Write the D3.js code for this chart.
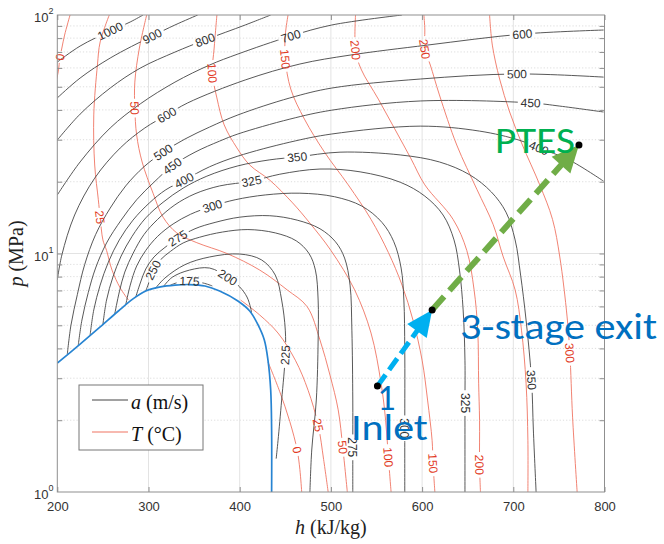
<!DOCTYPE html>
<html>
<head>
<meta charset="utf-8">
<script src="https://cdn.jsdelivr.net/npm/d3@7"></script>
<style>
  body { margin: 0; background: #fff; }
  svg { display: block; }
</style>
</head>
<body>
<div id="chart"></div>
<script>
/* Data: h in kJ/kg, p in MPa */
const hTicks = [200, 300, 400, 500, 600, 700, 800]
const pTicks = [1, 10, 100]

// speed of sound contours, a (m/s)
const soundLevels = [1000, 900, 800, 700, 600, 500, 450, 400, 350, 325, 300, 275, 250, 225, 200, 175]
const soundLines = [
  [[200,63.5],[225,74.1],[258,85.7],[280,93.5],[294,100]],
  [[200,44.9],[225,54.4],[258,66.0],[304,81.6],[329,90.8],[354,100]],
  [[200,29.9],[225,38.4],[258,49.4],[291,59.9],[329,69.9],[362,78.6],[406,90.8],[434,100]],
  [[200,17.6],[225,24.2],[258,33.6],[291,42.4],[329,52.3],[367,61.7],[398,68.6],[456,81.6],[501,90.8],[578,100]],
  [[200,7.74],[205,9.86],[219,14.5],[241,20.7],[269,27.7],[296,33.6],[320,38.1],[343,42.8],[406,53.4],[466,62.3],[521,67.9],[606,74.8],[710,83.2],[799,86.5]],
  [[211,3.79],[215,5.01],[222,6.73],[230,8.98],[242,12.0],[258,15.5],[275,19.2],[295,23.1],[316,26.6],[340,30.2],[367,33.9],[398,38.1],[455,44.9],[501,49.4],[598,53.9],[704,56.6],[799,54.9]],
  [[223,4.13],[227,5.26],[234,6.87],[242,8.69],[254,11.07],[270,13.8],[287,16.8],[306,19.9],[326,23.3],[351,26.6],[378,29.6],[398,31.7],[455,36.6],[501,39.9],[598,43.6],[719,42.8],[751,41.5],[799,39.2]],
  [[236,4.55],[240,5.80],[247,7.37],[256,9.2],[268,11.4],[283,13.8],[301,16.3],[319,18.5],[339,20.3],[367,23.1],[398,25.6],[455,29.3],[501,31.7],[598,34.2],[663,32.6],[706,29.9],[728,27.7],[761,24.7],[799,20.1]],
  [[250,5.03],[254,6.38],[261,7.97],[270,9.76],[282,11.8],[297,14.1],[316,16.4],[338,18.8],[364,21.1],[398,23.3],[433,24.7],[463,25.4],[510,26.6],[576,25.9],[619,24.2],[652,21.4],[676,18.1],[692,14.9],[702,11.4],[708,8.12],[714,5.26],[720,2.95],[722,1.82],[725,1.0]],
  [[263,5.58],[268,6.90],[274,8.36],[283,10.0],[295,12.0],[310,13.9],[329,16.0],[351,17.8],[378,19.2],[413,20.1],[444,21.5],[488,22.6],[532,22.0],[576,19.9],[603,17.4],[623,14.5],[635,11.4],[641,8.52],[645,5.80],[647,3.57],[647,2.36],[647,1.0]],
  [[275,6.08],[280,7.37],[287,8.86],[297,10.3],[310,11.8],[327,13.3],[346,14.6],[370,15.8],[395,16.8],[428,17.6],[466,17.9],[504,17.3],[534,15.8],[556,13.5],[569,11.2],[577,8.69],[580,6.38],[581,3.94],[581,1.85],[581,1.0]],
  [[286,6.57],[291,7.52],[297,8.61],[306,9.67],[318,10.6],[332,11.6],[351,12.7],[373,13.5],[400,14.2],[433,14.4],[463,13.8],[488,12.7],[505,11.2],[515,9.57],[521,7.37],[523,4.77],[524,2.43],[524,1.54],[524,1.0]],
  [[297,6.96],[301,7.66],[305,8.52],[313,9.4],[324,10.2],[338,11.07],[356,11.7],[381,12.3],[409,12.6],[439,12.2],[462,11.3],[476,10.0],[483,8.52],[486,6.38],[486,4.34],[484,2.43],[479,1.50],[477,1.0]],
  [[307,7.10],[318,7.89],[340,8.98],[367,9.67],[400,9.95],[424,9.4],[439,8.12],[446,6.38],[450,4.77],[450,3.75],[446,2.43],[442,1.64],[440,1.38]],
  [[316,7.24],[326,7.95],[345,8.52],[367,8.69],[387,7.95],[400,7.24],[408,6.57],[412,5.91],[413,5.64]],
  [[324,7.37],[334,7.59],[345,7.66],[360,7.52],[370,7.31]]
]
const soundLabelAt = [[2],[3],[5],[7],[6,12],[8,15],[8,15],[8,16],[11,21],[9,20],[7,18],[5,17],[2],[9],[4],[2]]

// isotherms, T (°C); 0 and 25 have a liquid and a vapour branch
const tempLevels = [0, 0, 25, 25, 50, 100, 150, 200, 250, 300]
const tempLines = [
  [[214,100],[208,82.4],[205,72.7],[203,66.7],[201,57.7],[199,53.4]],
  [[431,3.51],[444,2.63],[455,1.97],[463,1.50],[466,1.24],[468,1.0]],
  [[257,100],[247,77.1],[244,61.7],[240,38.1],[241,23.5],[245,16.8],[247,14.2],[250,11.4],[254,10.3],[260,8.52],[269,7.17],[278,6.38]],
  [[401,6.38],[422,5.52],[442,4.64],[461,3.57],[475,2.67],[486,1.91],[492,1.37],[497,1.0]],
  [[298,100],[290,72.7],[285,52.3],[285,40.7],[287,31.4],[293,24.2],[305,17.9],[316,14.2],[331,12.2],[353,11.1],[386,10.0],[422,8.52],[452,7.04],[474,5.98],[488,4.34],[499,3.09],[508,2.21],[513,1.54],[518,1.0]],
  [[375,100],[372,72.7],[370,57.1],[375,44.9],[383,34.6],[397,27.7],[411,23.5],[433,20.3],[458,16.3],[477,13.4],[500,10.3],[526,7.04],[544,4.64],[555,2.86],[560,2.00],[563,1.40],[566,1.0]],
  [[453,100],[450,82.4],[450,65.4],[456,48.9],[471,36.6],[493,26.6],[519,19.4],[544,13.9],[563,10.1],[578,7.37],[590,5.26],[600,3.57],[606,2.43],[611,1.64],[612,1.32],[614,1.0]],
  [[527,100],[527,71.3],[533,59.4],[552,44.4],[570,33.3],[588,24.9],[603,19.4],[634,13.9],[649,10.3],[657,7.04],[661,4.77],[662,2.86],[663,2.00],[663,1.30],[664,1.0]],
  [[602,100],[603,86.5],[603,72.0],[609,61.7],[619,46.2],[638,28.5],[660,18.6],[678,13.2],[689,9.67],[702,7.04],[709,4.77],[714,2.86],[716,1.64],[716,1.0]],
  [[674,100],[677,74.8],[685,53.9],[696,39.2],[710,28.5],[729,19.4],[743,13.9],[751,9.67],[759,5.42],[762,3.83],[765,2.06],[770,1.0]]
]
const tempLabelAt = [[3],[3],[6],[5],[3,17],[2,15],[2,14],[1,13],[2],[9]]

// saturation dome
const domeLine = [[200,3.47],[225,4.17],[247,4.92],[267,5.74],[283,6.45],[297,6.96],[313,7.24],[329,7.37],[345,7.41],[362,7.31],[378,6.96],[398,6.32],[411,5.74],[420,5.03],[427,4.34],[431,3.57],[434,2.67],[435,1.82],[435,1.0]]

// compression path: inlet, 3-stage exit, PTES
const processPoints = [[551,2.78],[611,5.80],[772,28.5]]
/* End data */

const width = 664
const height = 544

const x = d3.scaleLinear().domain([200, 800]).range([57.3, 604.5])
const y = d3.scaleLog().domain([1, 100]).range([492, 15])

const svg = d3.select("#chart").append("svg")
    .attr("width", width)
    .attr("height", height)

const defs = svg.append("defs")
defs.append("clipPath")
    .attr("id", "plot-clip")
  .append("rect")
    .attr("x", x(200))
    .attr("y", y(100))
    .attr("width", x(800) - x(200))
    .attr("height", y(1) - y(100))

/* Grid */
const grid = svg.append("g")
const minorP = y.ticks().filter(d => ![1, 10, 100].includes(d))

grid.selectAll(".minor")
  .data(minorP)
  .join("line")
    .attr("x1", x(200))
    .attr("x2", x(800))
    .attr("y1", d => y(d))
    .attr("y2", d => y(d))
    .attr("stroke", "#d4d4d4")
    .attr("stroke-width", 0.8)
    .attr("stroke-dasharray", "1.2,2")

grid.selectAll(".major-h")
  .data(hTicks.slice(1, -1))
  .join("line")
    .attr("x1", d => x(d))
    .attr("x2", d => x(d))
    .attr("y1", y(1))
    .attr("y2", y(100))
    .attr("stroke", "#e3e3e3")
    .attr("stroke-width", 1)

grid.append("line")
    .attr("x1", x(200))
    .attr("x2", x(800))
    .attr("y1", y(10))
    .attr("y2", y(10))
    .attr("stroke", "#e3e3e3")
    .attr("stroke-width", 1)

/* Contours */
const line = d3.line()
    .x(d => x(d[0]))
    .y(d => y(d[1]))
    .curve(d3.curveCatmullRom.alpha(0.5))

const plot = svg.append("g").attr("clip-path", "url(#plot-clip)")
const labelLayer = svg.append("g")

const labelSpots = (pts, idxs) => idxs.map(i => {
  const a = pts[Math.max(i - 1, 0)]
  const b = pts[Math.min(i + 1, pts.length - 1)]
  let ang = Math.atan2(y(b[1]) - y(a[1]), x(b[0]) - x(a[0])) * 180 / Math.PI
  if (ang > 90) ang -= 180
  if (ang <= -90) ang += 180
  return {x: x(pts[i][0]), y: y(pts[i][1]), ang}
})

const drawContours = (lines, levels, labelAt, lineColor, textColor, prefix) => {
  lines.forEach((pts, k) => {
    const spots = labelSpots(pts, labelAt[k])
    const text = String(levels[k])
    const w = text.length * 6.9 + 5
    const maskId = `${prefix}-${k}`

    const mask = defs.append("mask")
        .attr("id", maskId)
        .attr("maskUnits", "userSpaceOnUse")
        .attr("x", 0).attr("y", 0)
        .attr("width", width).attr("height", height)
    mask.append("rect")
        .attr("width", width)
        .attr("height", height)
        .attr("fill", "white")
    spots.forEach(s => {
      mask.append("rect")
          .attr("x", -w / 2)
          .attr("y", -7)
          .attr("width", w)
          .attr("height", 14)
          .attr("transform", `translate(${s.x},${s.y}) rotate(${s.ang})`)
          .attr("fill", "black")
    })

    plot.append("path")
        .attr("d", line(pts))
        .attr("mask", `url(#${maskId})`)
        .attr("fill", "none")
        .attr("stroke", lineColor)
        .attr("stroke-width", 0.9)

    spots.forEach(s => {
      labelLayer.append("text")
          .attr("transform", `translate(${s.x},${s.y}) rotate(${s.ang})`)
          .attr("text-anchor", "middle")
          .attr("dy", "0.36em")
          .attr("font-family", "'Liberation Sans', Arial, sans-serif")
          .attr("font-size", 12)
          .attr("fill", textColor)
          .text(text)
    })
  })
}

drawContours(tempLines, tempLevels, tempLabelAt, "#ef7563", "#e23b26", "tm")
drawContours(soundLines, soundLevels, soundLabelAt, "#454545", "#303030", "sm")

plot.append("path")
    .attr("d", line(domeLine))
    .attr("fill", "none")
    .attr("stroke", "#2784d2")
    .attr("stroke-width", 1.7)

/* Axes */
const axisColor = "#8f8f8f"
svg.append("rect")
    .attr("x", x(200))
    .attr("y", y(100))
    .attr("width", x(800) - x(200))
    .attr("height", y(1) - y(100))
    .attr("fill", "none")
    .attr("stroke", axisColor)
    .attr("stroke-width", 1)

const styleAxis = g => {
  g.select(".domain").remove()
  g.selectAll(".tick line").attr("stroke", axisColor)
  g.selectAll(".tick text")
      .attr("font-family", "'Liberation Sans', Arial, sans-serif")
      .attr("font-size", 13)
      .attr("fill", "#333")
}

svg.append("g")
    .attr("transform", `translate(0,${y(1)})`)
    .call(d3.axisBottom(x).tickValues(hTicks).tickSizeInner(-5).tickSizeOuter(0).tickPadding(10))
    .call(styleAxis)

svg.append("g")
    .attr("transform", `translate(0,${y(100)})`)
    .call(d3.axisTop(x).tickValues(hTicks).tickSizeInner(-5).tickSizeOuter(0).tickFormat(""))
    .call(styleAxis)

svg.append("g")
    .attr("transform", `translate(${x(200)},0)`)
    .call(d3.axisLeft(y).tickValues(minorP.concat([10])).tickSizeInner(-5).tickSizeOuter(0).tickFormat(""))
    .call(styleAxis)

svg.append("g")
    .attr("transform", `translate(${x(800)},0)`)
    .call(d3.axisRight(y).tickValues(minorP.concat([10])).tickSizeInner(-5).tickSizeOuter(0).tickFormat(""))
    .call(styleAxis)

const yLabels = svg.append("g")
    .attr("font-family", "'Liberation Sans', Arial, sans-serif")
    .attr("fill", "#333")
pTicks.forEach(d => {
  yLabels.append("text")
      .attr("x", 48.5)
      .attr("y", y(d) + 7)
      .attr("text-anchor", "end")
      .attr("font-size", 13)
      .text("10")
  yLabels.append("text")
      .attr("x", 48.5)
      .attr("y", y(d) - 1)
      .attr("font-size", 9)
      .text(Math.round(Math.log10(d)))
})

// axis titles
const serif = "'Liberation Serif', 'Times New Roman', serif"
const xTitle = svg.append("text")
    .attr("x", (x(200) + x(800)) / 2)
    .attr("y", 534)
    .attr("text-anchor", "middle")
    .attr("font-family", serif)
    .attr("font-size", 20)
    .attr("fill", "#222")
xTitle.append("tspan").attr("font-style", "italic").text("h")
xTitle.append("tspan").text(" (kJ/kg)")

const yTitle = svg.append("text")
    .attr("transform", `translate(23,${(y(1) + y(100)) / 2}) rotate(-90)`)
    .attr("text-anchor", "middle")
    .attr("font-family", serif)
    .attr("font-size", 20)
    .attr("fill", "#222")
yTitle.append("tspan").attr("font-style", "italic").text("p")
yTitle.append("tspan").text(" (MPa)")

/* Legend */
const legend = svg.append("g")
legend.append("rect")
    .attr("x", 79)
    .attr("y", 385)
    .attr("width", 124)
    .attr("height", 65)
    .attr("fill", "white")
    .attr("stroke", "#777")
    .attr("stroke-width", 1)

const legendItems = [
  {color: "#454545", sym: "a", unit: " (m/s)", yy: 400},
  {color: "#ef7563", sym: "T", unit: " (\u00B0C)", yy: 432}
]
legendItems.forEach(it => {
  legend.append("line")
      .attr("x1", 92).attr("x2", 128)
      .attr("y1", it.yy).attr("y2", it.yy)
      .attr("stroke", it.color)
      .attr("stroke-width", 1.1)
  const t = legend.append("text")
      .attr("x", 131)
      .attr("y", it.yy + 8.5)
      .attr("font-family", serif)
      .attr("font-size", 20)
      .attr("fill", "#111")
  t.append("tspan").attr("font-style", "italic").text(it.sym)
  t.append("tspan").text(it.unit)
})

/* Compression path */
const pts = processPoints.map(d => [x(d[0]), y(d[1])])

const drawArrow = (from, to, color, widthPx, dash, headLen, headW) => {
  const dx = to[0] - from[0]
  const dy = to[1] - from[1]
  const len = Math.hypot(dx, dy)
  const ux = dx / len, uy = dy / len
  const bx = to[0] - ux * headLen, by = to[1] - uy * headLen
  svg.append("line")
      .attr("x1", from[0]).attr("y1", from[1])
      .attr("x2", bx + ux * 2).attr("y2", by + uy * 2)
      .attr("stroke", color)
      .attr("stroke-width", widthPx)
      .attr("stroke-dasharray", dash)
  svg.append("polygon")
      .attr("points", [
        [to[0], to[1]],
        [bx - uy * headW / 2, by + ux * headW / 2],
        [bx + uy * headW / 2, by - ux * headW / 2]
      ].map(p => p.join(",")).join(" "))
      .attr("fill", color)
}

drawArrow(pts[0], pts[1], "#00b0f0", 5, "14,6", 26, 24)
drawArrow(pts[1], pts[2], "#70ad47", 6, "18,8", 27, 25)

svg.selectAll(".state")
  .data(pts)
  .join("circle")
    .attr("cx", d => d[0])
    .attr("cy", d => d[1])
    .attr("r", 3.5)
    .attr("fill", "black")

const annoFont = "Carlito, 'Open Sans', 'Noto Sans', sans-serif"
const anno = [
  {text: "1", dx: 9, dy: 24, anchor: "middle", color: "#0070c0", len: null, at: 0},
  {text: "Inlet", dx: 12, dy: 54, anchor: "middle", color: "#0070c0", len: 77, at: 0},
  {text: "3-stage exit", dx: 28, dy: 29, anchor: "start", color: "#0070c0", len: 197, at: 1},
  {text: "PTES", dx: -84, dy: 8, anchor: "start", color: "#00b050", len: 80, at: 2}
]
anno.forEach(a => {
  const t = svg.append("text")
      .attr("x", pts[a.at][0] + a.dx)
      .attr("y", pts[a.at][1] + a.dy)
      .attr("text-anchor", a.anchor)
      .attr("font-family", annoFont)
      .attr("font-size", 36)
      .attr("fill", a.color)
      .text(a.text)
  if (a.len) t.attr("textLength", a.len).attr("lengthAdjust", "spacingAndGlyphs")
})
</script>
</body>
</html>
